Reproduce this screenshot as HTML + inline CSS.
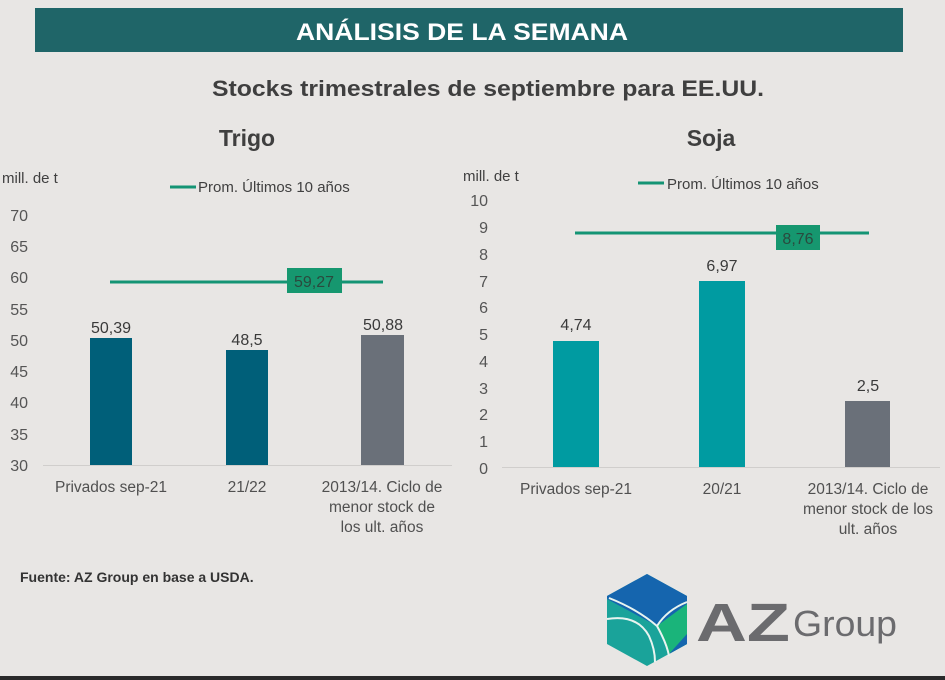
<!DOCTYPE html>
<html><head><meta charset="utf-8"><style>
html,body{margin:0;padding:0;background:#e8e6e4;}
svg{display:block;font-family:"Liberation Sans",Arial,sans-serif;}
</style></head><body>
<svg width="945" height="680" viewBox="0 0 945 680" xmlns="http://www.w3.org/2000/svg">
<rect width="945" height="680" fill="#e8e6e4"/>
<rect x="35" y="8" width="868" height="44" fill="#1f6568"/>
<text x="462" y="40" text-anchor="middle" fill="#fff" font-size="24" font-weight="bold" textLength="332" lengthAdjust="spacingAndGlyphs">ANÁLISIS DE LA SEMANA</text>
<text x="488" y="96" text-anchor="middle" fill="#3f3f3f" font-size="22" font-weight="bold" textLength="552" lengthAdjust="spacingAndGlyphs">Stocks trimestrales de septiembre para EE.UU.</text>
<text x="247" y="146" text-anchor="middle" fill="#3f3f3f" font-size="23" font-weight="bold">Trigo</text>
<text x="711" y="146" text-anchor="middle" fill="#3f3f3f" font-size="23" font-weight="bold">Soja</text>

<g font-size="15" fill="#404040">
<!-- Trigo -->
<text x="2" y="183">mill. de t</text>
<line x1="170" y1="187" x2="196" y2="187" stroke="#149474" stroke-width="3"/>
<text x="198" y="192" font-size="15">Prom. Últimos 10 años</text>
<g text-anchor="end" font-size="16" fill="#555">
<text x="28" y="221">70</text><text x="28" y="252">65</text><text x="28" y="283">60</text><text x="28" y="315">55</text><text x="28" y="346">50</text><text x="28" y="377">45</text><text x="28" y="408">40</text><text x="28" y="440">35</text><text x="28" y="471">30</text>
</g>
<line x1="43" y1="465.5" x2="452" y2="465.5" stroke="#d0cecc" stroke-width="1"/>
<rect x="90" y="338" width="42" height="127" fill="#005f79"/>
<rect x="226" y="350" width="42" height="115" fill="#005f79"/>
<rect x="361" y="335" width="43" height="130" fill="#6a7079"/>
<g text-anchor="middle" font-size="16" fill="#3a3a3a">
<text x="111" y="333">50,39</text><text x="247" y="345">48,5</text><text x="383" y="330">50,88</text>
</g>
<line x1="110" y1="282" x2="383" y2="282" stroke="#149474" stroke-width="3"/>
<rect x="287" y="268" width="55" height="25" fill="#16976f"/>
<text x="314" y="287" text-anchor="middle" font-size="16" fill="#2a4a3e">59,27</text>
<g text-anchor="middle" font-size="15.5" fill="#505050">
<text x="111" y="492">Privados sep-21</text>
<text x="247" y="492">21/22</text>
<text x="382" y="492">2013/14. Ciclo de</text>
<text x="382" y="512">menor stock de</text>
<text x="382" y="532">los ult. años</text>
</g>

<!-- Soja -->
<text x="463" y="181">mill. de t</text>
<line x1="638" y1="183" x2="664" y2="183" stroke="#149474" stroke-width="3"/>
<text x="667" y="189" font-size="15">Prom. Últimos 10 años</text>
<g text-anchor="end" font-size="16" fill="#555">
<text x="488" y="206">10</text><text x="488" y="233">9</text><text x="488" y="260">8</text><text x="488" y="287">7</text><text x="488" y="313">6</text><text x="488" y="340">5</text><text x="488" y="367">4</text><text x="488" y="394">3</text><text x="488" y="420">2</text><text x="488" y="447">1</text><text x="488" y="474">0</text>
</g>
<line x1="502" y1="467.5" x2="940" y2="467.5" stroke="#d0cecc" stroke-width="1"/>
<rect x="553" y="341" width="46" height="126" fill="#009ba1"/>
<rect x="699" y="281" width="46" height="186" fill="#009ba1"/>
<rect x="845" y="401" width="45" height="66" fill="#6a7079"/>
<g text-anchor="middle" font-size="16" fill="#3a3a3a">
<text x="576" y="330">4,74</text><text x="722" y="271">6,97</text><text x="868" y="391">2,5</text>
</g>
<line x1="575" y1="233" x2="869" y2="233" stroke="#149474" stroke-width="3"/>
<rect x="776" y="225" width="44" height="25" fill="#16976f"/>
<text x="798" y="244" text-anchor="middle" font-size="16" fill="#2a4a3e">8,76</text>
<g text-anchor="middle" font-size="15.5" fill="#505050">
<text x="576" y="494">Privados sep-21</text>
<text x="722" y="494">20/21</text>
<text x="868" y="494">2013/14. Ciclo de</text>
<text x="868" y="514">menor stock de los</text>
<text x="868" y="534">ult. años</text>
</g>
</g>

<text x="20" y="582" font-size="14" font-weight="bold" fill="#333">Fuente: AZ Group en base a USDA.</text>

<!-- logo -->
<g transform="translate(607,574)">
<polygon points="40,0 80,22 80,70 40,92 0,70 0,22" fill="#1aa39a"/>
<polygon points="40,0 80,22 80,30 50,52 0,25 0,22" fill="#1565ae"/>
<path d="M50,52 L80,30 L80,70 L62,80 Q55,62 50,52Z" fill="#1ab47a"/>
<path d="M80,60 L80,70 L62,80Z" fill="#1565ae"/>
<path d="M2,24 Q30,35 50,52 Q60,70 62,82" stroke="#e8f4f0" stroke-width="2" fill="none"/>
<path d="M50,52 Q60,36 80,28" stroke="#e8f4f0" stroke-width="2" fill="none"/>
<path d="M0,45 Q30,40 42,62 Q48,75 48,88" stroke="#e8f4f0" stroke-width="2" fill="none"/>
</g>
<text x="696" y="641" font-size="54" font-weight="bold" fill="#6b6b6e" textLength="94" lengthAdjust="spacingAndGlyphs">AZ</text>
<text x="793" y="636" font-size="36" fill="#6b6b6e" textLength="104" lengthAdjust="spacingAndGlyphs">Group</text>
<rect x="0" y="676" width="945" height="4" fill="#2a2a2a"/>
</svg>
</body></html>
